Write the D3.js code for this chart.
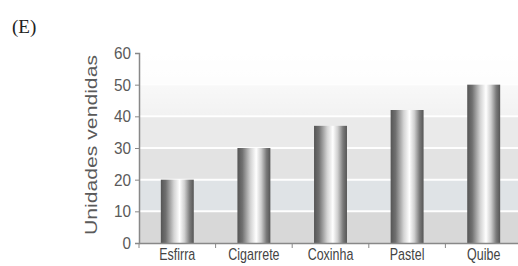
<!DOCTYPE html>
<html>
<head>
<meta charset="utf-8">
<script src="https://cdn.jsdelivr.net/npm/d3@7"></script>
<style>
  body { margin: 0; background: #fff; }
  svg { display: block; }
</style>
</head>
<body>
<div id="chart"></div>
<script>
var categories = ['Esfirra', 'Cigarrete', 'Coxinha', 'Pastel', 'Quibe'];
var values = [20, 30, 37, 42, 50];
var yTicks = [0, 10, 20, 30, 40, 50, 60];
// band fills from 0-10 up to 50-60
var bandColors = ['#d8d8d8', '#dfe3e6', '#e3e3e3', '#eaeaea', '#f2f2f2', '#fbfbfb'];

var width = 518, height = 266;
var margin = { top: 53, right: -4, bottom: 23, left: 139 };
var font = '"Liberation Sans", Arial, sans-serif';

var svg = d3.select('#chart').append('svg')
  .attr('width', width)
  .attr('height', height);

var defs = svg.append('defs');
var grad = defs.append('linearGradient').attr('id', 'cyl')
  .attr('x1', '0%').attr('x2', '100%').attr('y1', '0%').attr('y2', '0%');
[['0%', '#555'], ['15%', '#707070'], ['40%', '#d4d4d4'], ['57%', '#ffffff'],
 ['72%', '#cfcfcf'], ['88%', '#7a7a7a'], ['100%', '#555']].forEach(function(s) {
  grad.append('stop').attr('offset', s[0]).attr('stop-color', s[1]);
});

var x = d3.scaleBand()
  .domain(categories)
  .range([margin.left, width - margin.right])
  .paddingInner(0.57)
  .paddingOuter(0.285);

var y = d3.scaleLinear()
  .domain([0, 60])
  .range([height - margin.bottom, margin.top]);

var g = svg.append('g');

// background bands
g.selectAll('rect.band')
  .data(d3.range(6))
  .enter().append('rect')
  .attr('class', 'band')
  .attr('x', margin.left)
  .attr('y', function(i) { return y((i + 1) * 10); })
  .attr('width', width - margin.left)
  .attr('height', function(i) { return y(i * 10) - y((i + 1) * 10); })
  .attr('fill', function(i) { return bandColors[i]; });

// top fade
var fade = defs.append('linearGradient').attr('id', 'fade')
  .attr('x1', 0).attr('x2', 0).attr('y1', 0).attr('y2', 1);
fade.append('stop').attr('offset', '0%').attr('stop-color', '#fff').attr('stop-opacity', 1);
fade.append('stop').attr('offset', '100%').attr('stop-color', '#fff').attr('stop-opacity', 0);
g.append('rect')
  .attr('x', margin.left).attr('y', y(60))
  .attr('width', width - margin.left).attr('height', y(40) - y(60))
  .attr('fill', 'url(#fade)');

// white grid lines
g.selectAll('line.grid')
  .data([10, 20, 30, 40, 50])
  .enter().append('line')
  .attr('class', 'grid')
  .attr('x1', margin.left).attr('x2', width)
  .attr('y1', function(d) { return y(d); })
  .attr('y2', function(d) { return y(d); })
  .attr('stroke', '#fff')
  .attr('stroke-opacity', function(d) { return d === 50 ? 0.4 : 0.95; })
  .attr('stroke-width', 2);

// bars
g.selectAll('rect.bar')
  .data(values)
  .enter().append('rect')
  .attr('class', 'bar')
  .attr('x', function(d, i) { return x(categories[i]); })
  .attr('y', function(d) { return y(d); })
  .attr('width', x.bandwidth())
  .attr('height', function(d) { return y(0) - y(d); })
  .attr('fill', 'url(#cyl)');

// y axis
var yAxis = svg.append('g')
  .attr('transform', 'translate(' + margin.left + ',0)')
  .call(d3.axisLeft(y).tickValues(yTicks).tickSize(4).tickPadding(4));
yAxis.select('.domain').attr('stroke', '#888').attr('stroke-width', 1.5);
yAxis.selectAll('.tick line').attr('stroke', '#888');
yAxis.selectAll('text')
  .style('font-family', font)
  .style('font-size', '17px')
  .attr('fill', '#5a5a5a')
  .attr('transform', 'scale(0.9,1)')
  .attr('x', -8 / 0.9);

// x axis
var xAxis = svg.append('g')
  .attr('transform', 'translate(0,' + y(0) + ')')
  .call(d3.axisBottom(x).tickSize(0).tickPadding(6));
xAxis.select('.domain').attr('stroke', '#888').attr('stroke-width', 1.5);
xAxis.selectAll('text')
  .style('font-family', font)
  .style('font-size', '16px')
  .attr('fill', '#444')
  .attr('transform', 'scale(0.78,1)');

// separator ticks between categories
var step = x.step();
svg.selectAll('line.sep')
  .data(categories)
  .enter().append('line')
  .attr('class', 'sep')
  .attr('x1', function(d) { return x(d) - x.paddingInner() * step / 2; })
  .attr('x2', function(d) { return x(d) - x.paddingInner() * step / 2; })
  .attr('y1', y(0)).attr('y2', y(0) + 5)
  .attr('stroke', '#888');

// y axis title
svg.append('text')
  .attr('transform', 'translate(97,' + (y(30) - 3) + ') rotate(-90)')
  .attr('text-anchor', 'middle')
  .attr('textLength', 180)
  .attr('lengthAdjust', 'spacingAndGlyphs')
  .style('font-family', font)
  .style('font-size', '17px')
  .attr('fill', '#5a5a5a')
  .text('Unidades vendidas');

// panel label
svg.append('text')
  .attr('x', 12).attr('y', 33)
  .style('font-family', '"Liberation Serif", "Times New Roman", serif')
  .style('font-size', '19px')
  .attr('fill', '#222')
  .text('(E)');
</script>
</body>
</html>
